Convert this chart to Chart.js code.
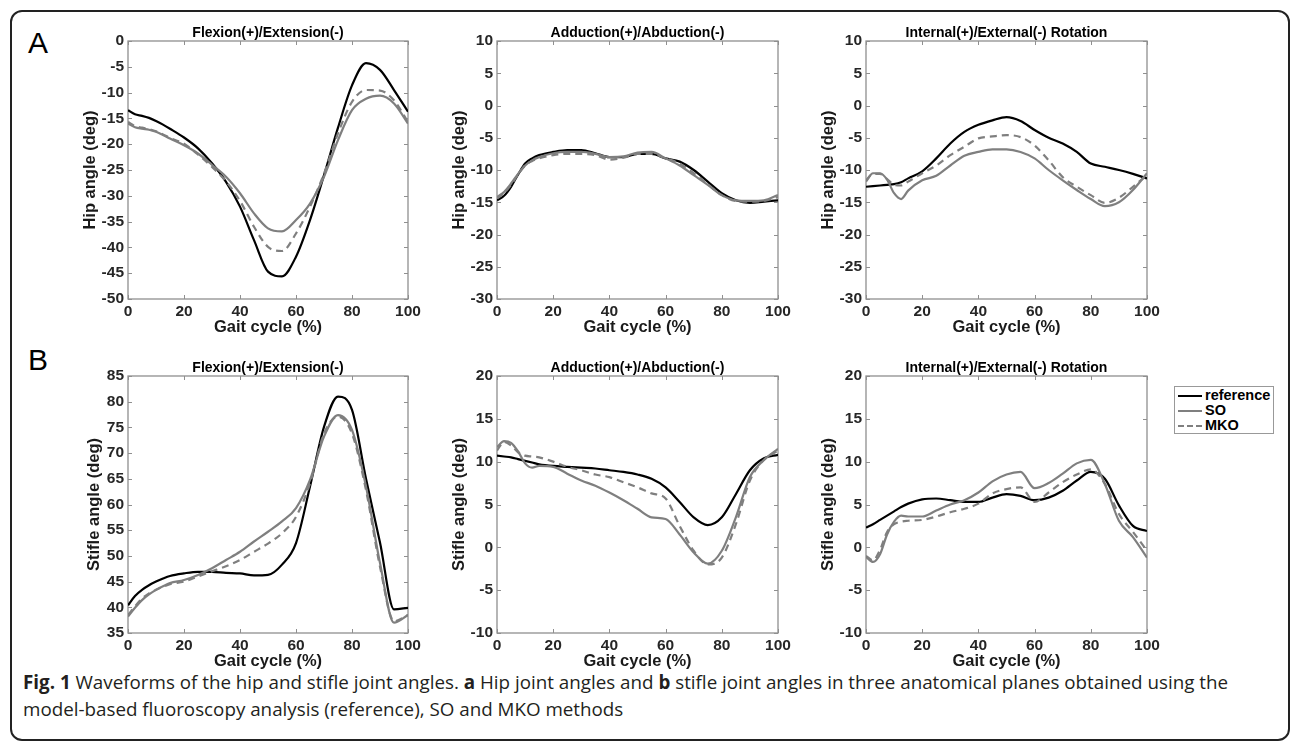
<!DOCTYPE html>
<html>
<head>
<meta charset="utf-8">
<title>Hip and stifle joint angles</title>
<script src="https://cdn.jsdelivr.net/npm/chart.js@4.4.0/dist/chart.umd.min.js"></script>
<style>
    body {
        margin: 0;
        width: 1292px;
        height: 743px;
        background: #fff;
        position: relative;
        overflow: hidden;
        font-family: "Liberation Sans", Arial, sans-serif;
    }
    .frame {
        position: absolute;
        left: 10px;
        top: 10px;
        width: 1280px;
        height: 731px;
        box-sizing: border-box;
        border: 2px solid #222;
        border-radius: 12px;
    }
    .panel-letter {
        position: absolute;
        font-size: 30px;
        line-height: 30px;
        color: #000;
    }
    .chart-box {
        position: absolute;
    }
    .legend {
        position: absolute;
        left: 1174px;
        top: 386px;
        width: 100px;
        height: 48px;
        box-sizing: border-box;
        border: 1px solid #999;
        background: #fff;
    }
    .legend-row {
        position: absolute;
        left: 3px;
        height: 15px;
        font: bold 14.5px "Liberation Sans", Arial, sans-serif;
        line-height: 15px;
        color: #000;
    }
    .legend-row .sample {
        position: absolute;
        left: 0;
        top: 7px;
        width: 24px;
        border-top: 2px solid #7f7f7f;
    }
    .legend-row .label {
        position: absolute;
        left: 27px;
        top: 0;
        white-space: nowrap;
    }
    .caption {
        position: absolute;
        left: 23px;
        top: 669px;
        width: 1260px;
        white-space: nowrap;
        font-family: "Open Sans", "Noto Sans", sans-serif;
        font-size: 18.8px;
        line-height: 27px;
        color: #231f20;
    }
</style>
</head>
<body>
<div class="frame"></div>
<div class="panel-letter" style="left:28px; top:28px;">A</div>
<div class="panel-letter" style="left:28px; top:345px;">B</div>

<div class="legend">
    <div class="legend-row" style="top:1px;"><span class="sample" style="border-top-color:#000;"></span><span class="label">reference</span></div>
    <div class="legend-row" style="top:16px;"><span class="sample"></span><span class="label">SO</span></div>
    <div class="legend-row" style="top:31px;"><span class="sample" style="border-top-style:dashed;"></span><span class="label">MKO</span></div>
</div>

<div class="caption"><b>Fig. 1</b> Waveforms of the hip and stifle joint angles. <b>a</b> Hip joint angles and <b>b</b> stifle joint angles in three anatomical planes obtained using the<br>model-based fluoroscopy analysis (reference), SO and MKO methods</div>

<script>
// gait cycle sample points (%)
const gaitPct = [0, 2.5, 5, 7.5, 10, 12.5, 15, 20, 25, 30, 35, 40, 45, 50, 55, 60, 65, 70, 75, 80, 85, 90, 95, 100];

// A: hip joint angles (deg)
const hipFlexRef = [-13.4, -14.2, -14.5, -14.9, -15.5, -16.2, -17.0, -18.7, -20.8, -23.7, -27.3, -32.1, -38.6, -44.7, -45.6, -41.8, -34.7, -26.0, -16.8, -8.6, -4.3, -5.6, -9.5, -13.7];
const hipFlexSO  = [-16.0, -16.7, -17.0, -17.2, -17.6, -18.2, -18.9, -20.2, -21.8, -24.0, -26.3, -29.5, -33.4, -36.3, -36.9, -34.7, -31.5, -26.3, -19.2, -13.4, -11.2, -10.6, -12.1, -16.0];
const hipFlexMKO = [-15.7, -16.5, -16.8, -17.1, -17.5, -18.1, -18.8, -19.9, -22.0, -24.4, -27.2, -31.0, -36.0, -39.9, -40.7, -37.3, -32.1, -25.7, -17.9, -11.8, -9.5, -9.6, -11.5, -15.7];

const hipAddRef = [-14.7, -14.0, -12.6, -10.7, -9.0, -8.2, -7.7, -7.2, -6.9, -6.9, -7.4, -8.0, -8.0, -7.5, -7.5, -8.2, -8.7, -10.0, -11.8, -13.6, -14.7, -15.1, -14.9, -14.7];
const hipAddSO  = [-14.2, -13.4, -12.1, -10.6, -9.3, -8.5, -8.0, -7.4, -7.2, -7.2, -7.5, -8.0, -7.9, -7.3, -7.2, -8.2, -9.3, -10.8, -12.3, -13.9, -14.7, -14.8, -14.7, -13.9];
const hipAddMKO = [-14.4, -13.6, -12.3, -10.7, -9.3, -8.6, -8.2, -7.7, -7.5, -7.5, -7.7, -8.4, -8.1, -7.5, -7.5, -8.2, -9.0, -10.5, -12.2, -13.9, -14.8, -14.9, -14.8, -14.2];

const hipRotRef = [-12.6, -12.5, -12.4, -12.3, -12.2, -11.9, -11.3, -10.2, -8.2, -5.9, -4.1, -3.0, -2.3, -1.8, -2.4, -3.8, -5.0, -5.9, -7.2, -9.0, -9.5, -10.0, -10.6, -11.3];
const hipRotSO  = [-11.8, -10.5, -10.5, -11.5, -13.6, -14.5, -13.2, -11.6, -10.9, -9.3, -7.8, -7.2, -6.8, -6.8, -7.2, -8.2, -10.0, -11.6, -13.1, -14.5, -15.6, -15.0, -13.1, -10.5];
const hipRotMKO = [-11.6, -10.6, -10.6, -11.4, -12.3, -12.4, -11.8, -10.5, -9.3, -7.7, -6.4, -5.1, -4.8, -4.6, -4.9, -6.2, -8.5, -11.1, -12.6, -13.9, -15.1, -14.3, -12.6, -10.8];

// B: stifle joint angles (deg)
const stifleFlexRef = [40.4, 42.2, 43.4, 44.3, 45.0, 45.6, 46.1, 46.6, 46.9, 46.9, 46.7, 46.6, 46.2, 46.3, 48.3, 52.5, 63.5, 75.1, 81.0, 78.4, 65.0, 52.6, 39.6, 39.9];
const stifleFlexSO  = [38.2, 39.9, 41.4, 42.5, 43.4, 44.1, 44.7, 45.3, 46.3, 47.6, 49.2, 50.8, 52.8, 54.7, 56.7, 59.3, 64.8, 73.2, 77.4, 74.5, 63.5, 48.6, 37.0, 38.5];
const stifleFlexMKO = [38.5, 40.2, 41.7, 42.7, 43.4, 44.0, 44.5, 45.0, 46.0, 47.0, 48.0, 49.2, 50.8, 52.4, 54.4, 57.6, 64.1, 73.8, 77.1, 73.8, 62.8, 47.9, 37.3, 38.5];

const stifleAddRef = [10.7, 10.6, 10.5, 10.3, 10.1, 9.9, 9.7, 9.5, 9.4, 9.3, 9.2, 9.0, 8.8, 8.5, 8.0, 7.0, 5.3, 3.5, 2.6, 3.5, 6.2, 9.0, 10.4, 10.8];
const stifleAddSO  = [11.7, 12.4, 12.2, 11.2, 9.8, 9.3, 9.5, 9.4, 8.6, 7.8, 7.2, 6.4, 5.5, 4.5, 3.5, 3.3, 1.5, -0.6, -1.9, -0.4, 3.5, 8.2, 10.2, 11.5];
const stifleAddMKO = [11.3, 12.3, 11.9, 11.1, 10.7, 10.6, 10.5, 10.0, 9.4, 9.0, 8.5, 8.2, 7.6, 7.0, 6.3, 5.7, 2.5, -0.4, -2.0, -1.2, 2.7, 7.8, 10.2, 11.3];

const stifleRotRef = [2.3, 2.7, 3.2, 3.7, 4.2, 4.7, 5.1, 5.6, 5.7, 5.5, 5.3, 5.3, 5.8, 6.2, 6.0, 5.5, 5.8, 6.6, 7.8, 8.8, 8.0, 4.9, 2.5, 1.9];
const stifleRotSO  = [-1.1, -1.7, -0.8, 1.5, 3.0, 3.7, 3.6, 3.6, 4.3, 5.0, 5.5, 6.4, 7.7, 8.5, 8.8, 6.9, 7.5, 8.6, 9.8, 10.2, 7.4, 3.1, 1.2, -1.2];
const stifleRotMKO = [-1.0, -1.5, -0.3, 1.8, 2.7, 3.0, 3.1, 3.2, 3.6, 4.1, 4.5, 5.1, 6.3, 6.8, 7.0, 5.3, 6.4, 7.6, 8.5, 9.1, 7.4, 3.9, 1.8, -0.4];

const xTicks = [0, 20, 40, 60, 80, 100];
const planeTitles = ['Flexion(+)/Extension(-)', 'Adduction(+)/Abduction(-)', 'Internal(+)/External(-) Rotation'];

// plot-area positions on the page
const rows = [{ top: 41, bottom: 299 }, { top: 376, bottom: 633 }];
const cols = [{ left: 128, right: 408 }, { left: 497, right: 778 }, { left: 866, right: 1147 }];
const PAD_L = 52, PAD_T = 22, PAD_R = 22, AX_H = 38;
const FONT = '"Liberation Sans", Arial, sans-serif';

// MATLAB-like box with inward tick marks and a title above the axes
const matlabAxes = {
    id: 'matlabAxes',
    beforeDatasetsDraw(chart) {
        const { ctx, chartArea: a, scales: { x, y } } = chart;
        ctx.save();
        ctx.strokeStyle = '#8f8f8f';
        ctx.lineWidth = 1.3;
        ctx.strokeRect(a.left, a.top, a.width, a.height);
        ctx.beginPath();
        x.ticks.forEach(t => {
            const px = Math.round(x.getPixelForValue(t.value)) + 0.5;
            ctx.moveTo(px, a.bottom); ctx.lineTo(px, a.bottom - 4);
            ctx.moveTo(px, a.top); ctx.lineTo(px, a.top + 4);
        });
        y.ticks.forEach(t => {
            const py = Math.round(y.getPixelForValue(t.value)) + 0.5;
            ctx.moveTo(a.left, py); ctx.lineTo(a.left + 4, py);
            ctx.moveTo(a.right, py); ctx.lineTo(a.right - 4, py);
        });
        ctx.lineWidth = 1;
        ctx.stroke();
        ctx.restore();
    },
    afterDraw(chart, args, opts) {
        const { ctx, chartArea: a } = chart;
        ctx.save();
        ctx.fillStyle = '#000';
        ctx.font = 'bold 14px ' + FONT;
        ctx.textAlign = 'center';
        ctx.textBaseline = 'alphabetic';
        ctx.fillText(opts.text, (a.left + a.right) / 2, a.top - 4);
        ctx.restore();
    }
};

function toPoints(values) {
    return values.map((v, i) => ({ x: gaitPct[i], y: v }));
}

function makePanel(row, col, title, yLabel, yMin, yMax, ref, so, mko, yTitleGap) {
    const r = rows[row], c = cols[col];
    const width = (c.right - c.left) + PAD_L + PAD_R;
    const height = (r.bottom - r.top) + PAD_T + AX_H;

    const box = document.createElement('div');
    box.className = 'chart-box';
    box.style.left = (c.left - PAD_L) + 'px';
    box.style.top = (r.top - PAD_T) + 'px';
    box.style.width = width + 'px';
    box.style.height = height + 'px';
    const canvas = document.createElement('canvas');
    canvas.width = width;
    canvas.height = height;
    box.appendChild(canvas);
    document.body.appendChild(box);

    const line = { pointRadius: 0, borderWidth: 2.2, fill: false, cubicInterpolationMode: 'monotone' };

    return new Chart(canvas.getContext('2d'), {
        type: 'line',
        data: {
            datasets: [
                { ...line, label: 'reference', data: toPoints(ref), borderColor: '#000000', order: 3 },
                { ...line, label: 'SO', data: toPoints(so), borderColor: '#7f7f7f', order: 2 },
                { ...line, label: 'MKO', data: toPoints(mko), borderColor: '#7f7f7f', borderDash: [7, 5], order: 1 }
            ]
        },
        options: {
            responsive: false,
            animation: false,
            events: [],
            layout: { padding: { top: PAD_T, right: PAD_R, left: 0, bottom: 0 } },
            scales: {
                x: {
                    type: 'linear',
                    min: 0,
                    max: 100,
                    afterBuildTicks: scale => { scale.ticks = xTicks.map(v => ({ value: v })); },
                    ticks: { color: '#262626', padding: 3, maxRotation: 0, autoSkip: false,
                             font: { family: FONT, size: 15.5, weight: 'bold' } },
                    grid: { display: false, drawTicks: false },
                    border: { display: false },
                    title: { display: true, text: 'Gait cycle (%)', color: '#1a1a1a',
                             font: { family: FONT, size: 16.5, weight: 'bold' }, padding: { top: 0, bottom: 0 } },
                    afterFit: scale => { scale.height = AX_H; }
                },
                y: {
                    type: 'linear',
                    min: yMin,
                    max: yMax,
                    ticks: { stepSize: 5, color: '#262626', padding: 4,
                             font: { family: FONT, size: 15.5, weight: 'bold' } },
                    grid: { display: false, drawTicks: false },
                    border: { display: false },
                    title: { display: true, text: yLabel, color: '#1a1a1a',
                             font: { family: FONT, size: 16.5, weight: 'bold' },
                             padding: { top: PAD_L - yTitleGap - 9.9, bottom: 0 } },
                    afterFit: scale => { scale.width = PAD_L; }
                }
            },
            plugins: {
                legend: { display: false },
                tooltip: { enabled: false },
                matlabAxes: { text: title }
            }
        },
        plugins: [matlabAxes]
    });
}

makePanel(0, 0, planeTitles[0], 'Hip angle (deg)', -50, 0, hipFlexRef, hipFlexSO, hipFlexMKO, 38);
makePanel(0, 1, planeTitles[1], 'Hip angle (deg)', -30, 10, hipAddRef, hipAddSO, hipAddMKO, 38);
makePanel(0, 2, planeTitles[2], 'Hip angle (deg)', -30, 10, hipRotRef, hipRotSO, hipRotMKO, 38);
makePanel(1, 0, planeTitles[0], 'Stifle angle (deg)', 35, 85, stifleFlexRef, stifleFlexSO, stifleFlexMKO, 33.5);
makePanel(1, 1, planeTitles[1], 'Stifle angle (deg)', -10, 20, stifleAddRef, stifleAddSO, stifleAddMKO, 38);
makePanel(1, 2, planeTitles[2], 'Stifle angle (deg)', -10, 20, stifleRotRef, stifleRotSO, stifleRotMKO, 38);
</script>
</body>
</html>
